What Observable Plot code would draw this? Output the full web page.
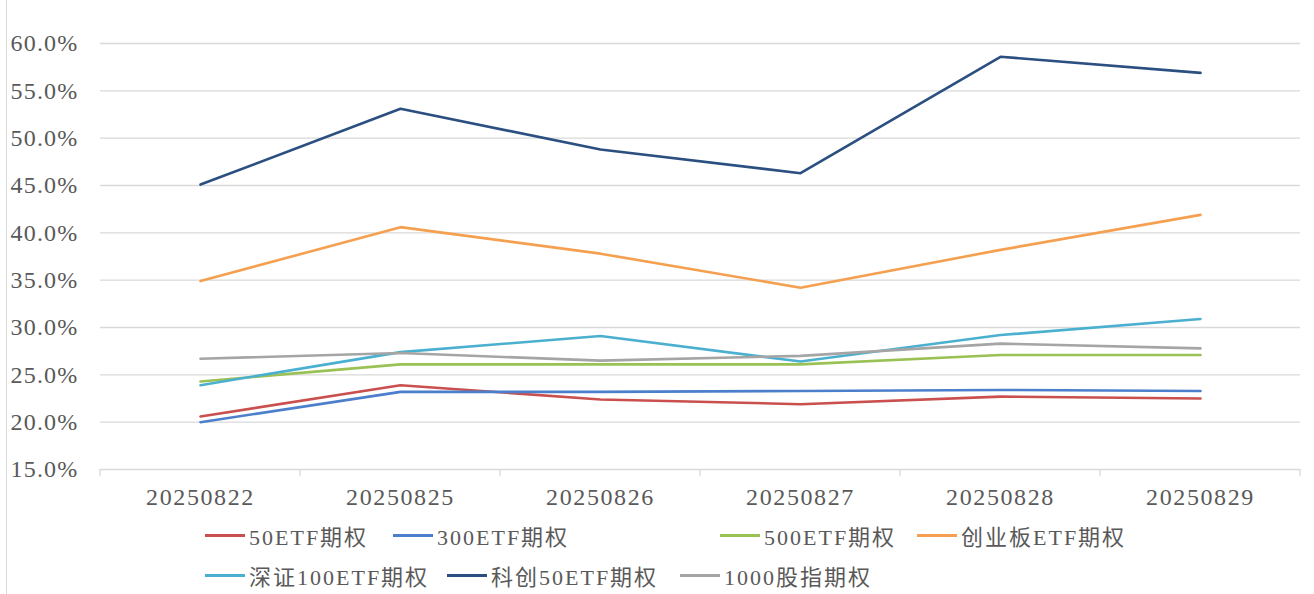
<!DOCTYPE html>
<html><head><meta charset="utf-8">
<script src="https://cdn.jsdelivr.net/npm/d3@7"></script>
<script src="https://cdn.jsdelivr.net/npm/@observablehq/plot@0.6"></script>
<style>
body{margin:0;background:#fff;}
#wrap{position:relative;width:1314px;height:594px;overflow:hidden;font-family:"Liberation Serif","Noto Sans CJK SC",serif;}
#border{position:absolute;left:6px;top:0;width:1px;height:594px;background:#d9d9d9;}
.leg{position:absolute;display:flex;align-items:center;height:30px;font-size:22px;color:#595959;white-space:nowrap;letter-spacing:2px;}
.leg .sw{width:40px;height:3px;margin-right:4px;}
g[aria-label="x-axis tick label"] text{letter-spacing:1.6px;}
g[aria-label="y-axis tick label"] text{letter-spacing:1.2px;}
</style></head><body><div id="wrap"><div id="border"></div><div id="chart"></div></div>
<script>
const dates = ["20250822","20250825","20250826","20250827","20250828","20250829"];
const series = ["50ETF期权","300ETF期权","500ETF期权","创业板ETF期权","深证100ETF期权","科创50ETF期权","1000股指期权"];
const colors = ["#c9504e","#4c7fcb","#9ac154","#f5a050","#4bb0cf","#2a4f80","#a5a5a5"];
const v50 = [20.6, 23.9, 22.4, 21.9, 22.7, 22.5];
const v300 = [20.0, 23.2, 23.2, 23.3, 23.4, 23.3];
const v500 = [24.3, 26.1, 26.1, 26.1, 27.1, 27.1];
const vCyb = [34.9, 40.6, 37.8, 34.2, 38.2, 41.9];
const vSz100 = [23.9, 27.4, 29.1, 26.4, 29.2, 30.9];
const vKc50 = [45.1, 53.1, 48.8, 46.3, 58.6, 56.9];
const v1000 = [26.7, 27.3, 26.5, 27.0, 28.3, 27.8];
const yTicks = [15, 20, 25, 30, 35, 40, 45, 50, 55, 60];

const values = [v50, v300, v500, vCyb, vSz100, vKc50, v1000];
const data = [];
series.forEach((s, i) => values[i].forEach((v, j) => data.push({series: s, date: dates[j], value: v})));

const font = '"Liberation Serif","Noto Sans CJK SC",serif';

function separators(index, scales, vals, dimensions) {
  const g = d3.create("svg:g");
  const x0 = scales.x(dates[0]);
  const bw = scales.x(dates[1]) - x0;
  const y0 = scales.y(15);
  const edges = dates.map(d => scales.x(d)).concat([scales.x(dates[dates.length - 1]) + bw]);
  edges.forEach(x => {
    g.append("line").attr("x1", x).attr("x2", x).attr("y1", y0).attr("y2", y0 + 7)
      .attr("stroke", "#d9d9d9").attr("stroke-width", 1.3);
  });
  return g.node();
}

const chart = Plot.plot({
  width: 1314, height: 515,
  marginLeft: 100, marginRight: 14, marginTop: 43, marginBottom: 46,
  style: {fontFamily: font, background: "transparent", overflow: "visible"},
  x: {type: "band", domain: dates, padding: 0, label: null},
  y: {domain: [15, 60], label: null},
  color: {domain: series, range: colors},
  marks: [
    Plot.gridY(yTicks, {stroke: "#d9d9d9", strokeOpacity: 1, strokeWidth: 1.3}),
    Plot.axisY(yTicks, {tickSize: 0, tickPadding: 22, tickFormat: d => d.toFixed(1) + "%", fontSize: 24, fill: "#595959"}),
    Plot.axisX({tickSize: 0, tickPadding: 18, fontSize: 24, fill: "#595959"}),
    separators,
    Plot.line(data, {x: "date", y: "value", z: "series", stroke: "series", strokeWidth: 2.6})
  ]
});
document.getElementById("chart").appendChild(chart);

const legLeft = [205, 393, 720, 917, 205, 447, 680];
const legTop = [520, 520, 520, 520, 560, 560, 560];
const wrap = document.getElementById("wrap");
series.forEach((s, i) => {
  const d = document.createElement("div");
  d.className = "leg";
  d.style.left = legLeft[i] + "px";
  d.style.top = legTop[i] + "px";
  const sw = document.createElement("span");
  sw.className = "sw";
  sw.style.background = colors[i];
  const t = document.createElement("span");
  t.textContent = s;
  d.appendChild(sw); d.appendChild(t);
  wrap.appendChild(d);
});
</script></body></html>
